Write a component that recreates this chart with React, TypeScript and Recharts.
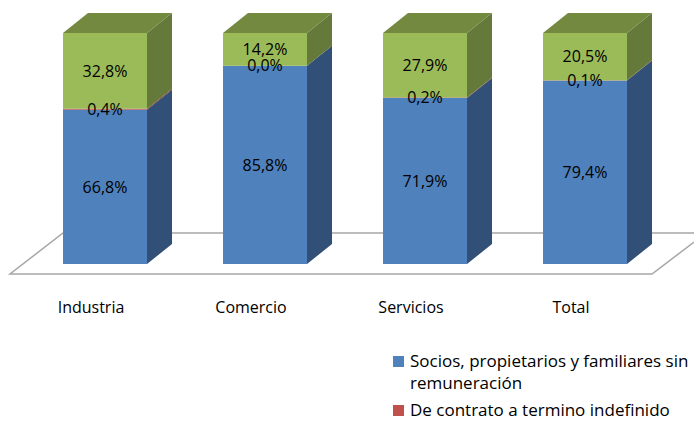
import { BarChart, Bar, XAxis, YAxis, LabelList } from 'recharts'

const categories = ['Industria', 'Comercio', 'Servicios', 'Total']
const socios = [66.8, 85.8, 71.9, 79.4]
const indefinido = [0.4, 0.0, 0.2, 0.1]
const otros = [32.8, 14.2, 27.9, 20.5]

const data = categories.map((c, i) => ({
  name: c,
  socios: socios[i],
  indefinido: indefinido[i],
  otros: otros[i],
}))

const DX = 25
const DY = 20
const FONT = '"Open Sans", Lato, sans-serif'

const fmt = (v: number) => `${v.toFixed(1).replace('.', ',')}%`

// front face + side face, and the lid on the top segment
function make3D(front: string, side: string, lid?: string) {
  // eslint-disable-next-line @typescript-eslint/no-explicit-any
  return (props: any) => {
    const { x, y, width, height } = props
    if (width == null || height == null) return <g />
    const r = x + width
    return (
      <g>
        <polygon
          points={`${r},${y} ${r + DX},${y - DY} ${r + DX},${y + height - DY} ${r},${y + height}`}
          fill={side}
        />
        <rect x={x} y={y} width={width} height={height} fill={front} />
        {lid && (
          <polygon
            points={`${x},${y} ${x + DX},${y - DY} ${r + DX},${y - DY} ${r},${y}`}
            fill={lid}
          />
        )}
      </g>
    )
  }
}

// eslint-disable-next-line @typescript-eslint/no-explicit-any
function CatTick({ x, y, payload }: any) {
  return (
    <text x={x - 14} y={y + 41} textAnchor="middle" fontSize={16} fill="#000" fontFamily={FONT}>
      {payload.value}
    </text>
  )
}

function LegendBox() {
  const row = { display: 'flex', alignItems: 'flex-start', marginBottom: 5 }
  const sq = (c: string) => ({ width: 11, height: 11, background: c, marginTop: 6, marginRight: 6, flex: 'none' as const })
  return (
    <div style={{ position: 'absolute', left: 393, top: 350, width: 305, fontFamily: FONT, fontSize: 17, color: '#000', lineHeight: '22px', whiteSpace: 'nowrap' }}>
      <div style={row}>
        <div style={sq('#4F81BD')} />
        <div>Socios, propietarios y familiares sin<br />remuneración</div>
      </div>
      <div style={row}>
        <div style={sq('#C0504D')} />
        <div>De contrato a termino indefinido</div>
      </div>
    </div>
  )
}

export default function App() {
  return (
    <div style={{ position: 'absolute', left: 0, top: 0, width: 694, height: 421, overflow: 'hidden', background: '#fff' }}>
      <svg width={694} height={421} style={{ position: 'absolute', left: 0, top: 0 }}>
        <polygon points="63,233 706,233 652,274 10,274" fill="#fff" stroke="#A6A6A6" strokeWidth={1.5} />
      </svg>
      <div style={{ position: 'absolute', left: 0, top: 0 }}>
        <BarChart width={694} height={421} data={data} margin={{ top: 33, right: 29, left: 25, bottom: 117 }} barSize={84}>
          <XAxis dataKey="name" axisLine={false} tickLine={false} height={40} tick={<CatTick />} interval={0} />
          <YAxis hide domain={[0, 100]} />
          <Bar dataKey="socios" stackId="a" isAnimationActive={false} shape={make3D('#4F81BD', '#324F78')}>
            <LabelList dataKey="socios" position="center" formatter={(v: number) => fmt(v)} fill="#000" fontSize={16} fontFamily={FONT} />
          </Bar>
          <Bar dataKey="indefinido" stackId="a" isAnimationActive={false} shape={make3D('#C0504D', '#7D3231')}>
            <LabelList dataKey="indefinido" position="center" formatter={(v: number) => fmt(v)} fill="#000" fontSize={16} fontFamily={FONT} />
          </Bar>
          <Bar dataKey="otros" stackId="a" isAnimationActive={false} shape={make3D('#9BBB59', '#65793A', '#72893F')}>
            <LabelList dataKey="otros" position="center" formatter={(v: number) => fmt(v)} fill="#000" fontSize={16} fontFamily={FONT} />
          </Bar>
        </BarChart>
      </div>
      <LegendBox />
    </div>
  )
}
